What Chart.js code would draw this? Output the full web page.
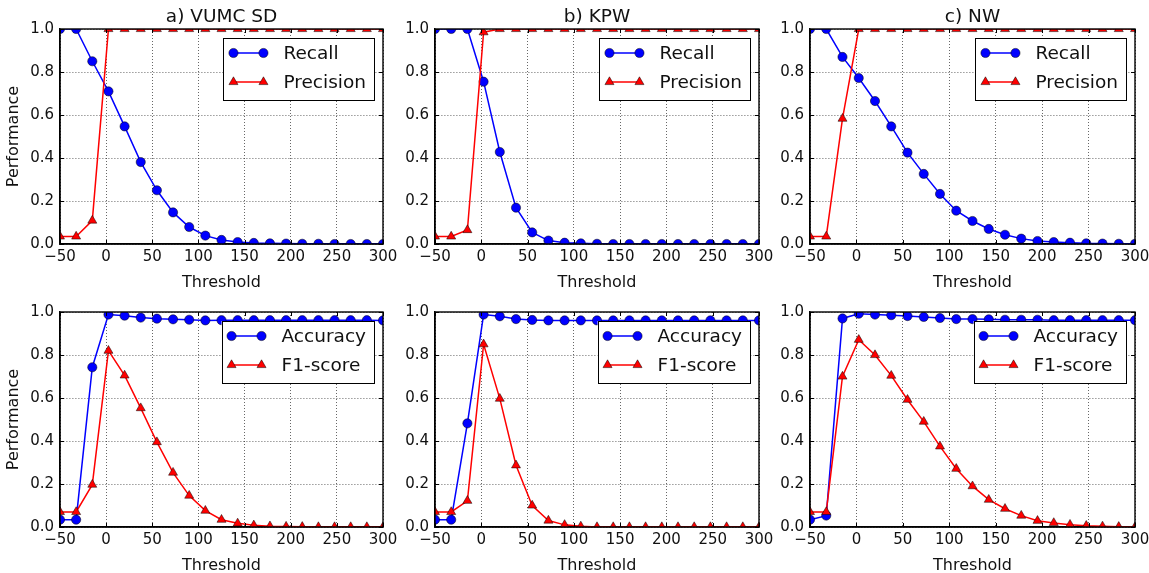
<!DOCTYPE html>
<html>
<head>
<meta charset="utf-8">
<script src="https://cdn.jsdelivr.net/npm/chart.js@4/dist/chart.umd.min.js"></script>
<style>
  html, body { margin: 0; padding: 0; background: #fff; }
  #wrap { position: relative; width: 1149px; height: 573px; overflow: hidden; }
  #wrap canvas { position: absolute; }
</style>
</head>
<body>
<div id="wrap"></div>
<script>
// Seuils communs a tous les panneaux
const thresholds = [-50, -32.5, -15, 2.5, 20, 37.5, 55, 72.5, 90, 107.5, 125, 142.5, 160, 177.5, 195, 212.5, 230, 247.5, 265, 282.5, 300];
const xTicks = [-50, 0, 50, 100, 150, 200, 250, 300];
const yTicks = [0, 0.2, 0.4, 0.6, 0.8, 1.0];

// a) VUMC SD
const recallVumc = [1.0, 1.0, 0.85, 0.71, 0.547, 0.381, 0.25, 0.147, 0.079, 0.039, 0.019, 0.009, 0.005, 0.003, 0.002, 0.001, 0.001, 0, 0, 0, 0];
const precisionVumc = [0.035, 0.035, 0.109, 1, 1, 1, 1, 1, 1, 1, 1, 1, 1, 1, 1, 1, 1, 1, 1, 1, 1];
const accuracyVumc = [0.034, 0.034, 0.743, 0.988, 0.983, 0.974, 0.969, 0.966, 0.964, 0.961, 0.962, 0.962, 0.962, 0.962, 0.962, 0.962, 0.962, 0.962, 0.962, 0.962, 0.961];
const f1Vumc = [0.07, 0.07, 0.197, 0.82, 0.705, 0.553, 0.395, 0.253, 0.146, 0.076, 0.034, 0.017, 0.008, 0.004, 0.002, 0.001, 0, 0, 0, 0, 0];

// b) KPW
const recallKpw = [1.0, 1.0, 1.0, 0.755, 0.428, 0.169, 0.054, 0.016, 0.006, 0.003, 0.001, 0, 0, 0, 0, 0, 0, 0, 0, 0, 0];
const precisionKpw = [0.035, 0.035, 0.065, 0.985, 1, 1, 1, 1, 1, 1, 1, 1, 1, 1, 1, 1, 1, 1, 1, 1, 1];
const accuracyKpw = [0.034, 0.034, 0.482, 0.988, 0.98, 0.967, 0.963, 0.961, 0.961, 0.961, 0.961, 0.961, 0.961, 0.961, 0.961, 0.961, 0.961, 0.961, 0.961, 0.961, 0.961];
const f1Kpw = [0.07, 0.07, 0.122, 0.85, 0.597, 0.287, 0.1, 0.03, 0.01, 0.003, 0, 0, 0, 0, 0, 0, 0, 0, 0, 0, 0];

// c) NW
const recallNw = [1.0, 1.0, 0.87, 0.772, 0.665, 0.547, 0.425, 0.326, 0.233, 0.155, 0.107, 0.07, 0.043, 0.025, 0.014, 0.009, 0.006, 0.003, 0.002, 0.001, 0.001];
const precisionNw = [0.035, 0.035, 0.583, 1, 1, 1, 1, 1, 1, 1, 1, 1, 1, 1, 1, 1, 1, 1, 1, 1, 1];
const accuracyNw = [0.034, 0.053, 0.97, 0.992, 0.988, 0.985, 0.981, 0.977, 0.972, 0.967, 0.967, 0.966, 0.964, 0.964, 0.964, 0.962, 0.962, 0.962, 0.962, 0.962, 0.962];
const f1Nw = [0.07, 0.07, 0.70, 0.871, 0.80, 0.704, 0.592, 0.49, 0.375, 0.271, 0.19, 0.127, 0.085, 0.053, 0.029, 0.019, 0.011, 0.006, 0.003, 0.001, 0];

const FONT = 'DejaVu Sans';
const TEXT = '#111';

// Panneaux : position de la zone de trace et series
const panels = [
  { title: 'a) VUMC SD', left: 60,  top: 29,  width: 323, names: ['Recall', 'Precision'], s1: recallVumc, s2: precisionVumc, yTitle: true },
  { title: 'b) KPW',     left: 435, top: 29,  width: 324, names: ['Recall', 'Precision'], s1: recallKpw,  s2: precisionKpw,  yTitle: false },
  { title: 'c) NW',      left: 810, top: 29,  width: 325, names: ['Recall', 'Precision'], s1: recallNw,   s2: precisionNw,   yTitle: false },
  { title: '',           left: 60,  top: 312, width: 323, names: ['Accuracy', 'F1-score'], s1: accuracyVumc, s2: f1Vumc, yTitle: true },
  { title: '',           left: 435, top: 312, width: 324, names: ['Accuracy', 'F1-score'], s1: accuracyKpw,  s2: f1Kpw,  yTitle: false },
  { title: '',           left: 810, top: 312, width: 325, names: ['Accuracy', 'F1-score'], s1: accuracyNw,   s2: f1Nw,   yTitle: false }
];

const PLOT_H = 215;
const PAD_TOP = 29;
const PAD_RIGHT = 20;
const Y_AXIS_W = 60;
const X_AXIS_H = 48;
const CIRCLE_R = 4.6;
const TRI_R = 5.2;

// Marqueurs dessines a la main pour la legende
function drawMarker(ctx, style, x, y, color) {
  ctx.save();
  ctx.fillStyle = color;
  ctx.strokeStyle = '#000';
  ctx.lineWidth = 0.5;
  ctx.beginPath();
  if (style === 'circle') {
    ctx.arc(x, y, CIRCLE_R, 0, Math.PI * 2);
  } else {
    const r = TRI_R;
    ctx.moveTo(x, y - r);
    ctx.lineTo(x + r * Math.sin(Math.PI * 2 / 3), y + r / 2);
    ctx.lineTo(x - r * Math.sin(Math.PI * 2 / 3), y + r / 2);
    ctx.closePath();
  }
  ctx.fill();
  ctx.stroke();
  ctx.restore();
}

// Cadre, petits traits de graduation, titre et legende
const panelDecor = {
  id: 'panelDecor',
  afterDraw(chart, args, opts) {
    const ctx = chart.ctx;
    const a = chart.chartArea;
    const xs = chart.scales.x;
    const ys = chart.scales.y;

    ctx.save();
    ctx.strokeStyle = '#000';
    ctx.lineWidth = 1;
    ctx.beginPath();
    for (const v of xTicks) {
      const px = Math.round(xs.getPixelForValue(v)) + 0.5;
      ctx.moveTo(px, a.bottom); ctx.lineTo(px, a.bottom - 4);
      ctx.moveTo(px, a.top); ctx.lineTo(px, a.top + 4);
    }
    for (const v of yTicks) {
      const py = Math.round(ys.getPixelForValue(v)) + 0.5;
      ctx.moveTo(a.left, py); ctx.lineTo(a.left + 4, py);
      ctx.moveTo(a.right, py); ctx.lineTo(a.right - 4, py);
    }
    ctx.stroke();

    // cadre complet
    ctx.lineWidth = 1.4;
    ctx.strokeRect(a.left, a.top, a.right - a.left, a.bottom - a.top);

    // titre
    if (opts.title) {
      ctx.fillStyle = TEXT;
      ctx.font = '18.5px "' + FONT + '"';
      ctx.textAlign = 'center';
      ctx.textBaseline = 'middle';
      ctx.fillText(opts.title, (a.left + a.right) / 2, a.top - 12);
    }

    // legende
    ctx.font = '18.5px "' + FONT + '"';
    const textW = Math.max(...opts.names.map(n => ctx.measureText(n).width));
    const boxW = 60 + textW + 8;
    const boxH = 62;
    const bx = a.right - 9 - boxW;
    const by = a.top + 9;
    ctx.fillStyle = '#fff';
    ctx.fillRect(bx, by, boxW, boxH);
    ctx.lineWidth = 1;
    ctx.strokeStyle = '#000';
    ctx.strokeRect(Math.round(bx) + 0.5, Math.round(by) + 0.5, Math.round(boxW), boxH);

    const rows = [
      { name: opts.names[0], color: '#0000ff', style: 'circle', y: by + 15 },
      { name: opts.names[1], color: '#ff0000', style: 'triangle', y: by + 44 }
    ];
    for (const r of rows) {
      ctx.strokeStyle = r.color;
      ctx.lineWidth = 1.5;
      ctx.beginPath();
      ctx.moveTo(bx + 10, r.y);
      ctx.lineTo(bx + 40, r.y);
      ctx.stroke();
      drawMarker(ctx, r.style, bx + 10, r.y, r.color);
      drawMarker(ctx, r.style, bx + 40, r.y, r.color);
      ctx.fillStyle = TEXT;
      ctx.textAlign = 'left';
      ctx.textBaseline = 'middle';
      ctx.fillText(r.name, bx + 60, r.y + 1);
    }
    ctx.restore();
  }
};

function toPoints(values) {
  const pts = [];
  for (let i = 0; i < thresholds.length; i++) {
    pts.push({ x: thresholds[i], y: values[i] });
  }
  return pts;
}

const wrap = document.getElementById('wrap');

for (let i = 0; i < panels.length; i++) {
  const p = panels[i];
  const canvas = document.createElement('canvas');
  const w = p.width + Y_AXIS_W + PAD_RIGHT;
  const h = PLOT_H + PAD_TOP + X_AXIS_H;
  canvas.width = w;
  canvas.height = h;
  canvas.style.width = w + 'px';
  canvas.style.height = h + 'px';
  canvas.style.left = (p.left - Y_AXIS_W) + 'px';
  canvas.style.top = (p.top - PAD_TOP) + 'px';
  wrap.appendChild(canvas);

  new Chart(canvas, {
    type: 'line',
    data: {
      datasets: [
        {
          label: p.names[0],
          data: toPoints(p.s1),
          borderColor: '#0000ff',
          backgroundColor: '#0000ff',
          borderWidth: 1.5,
          pointStyle: 'circle',
          pointRadius: CIRCLE_R,
          pointBorderColor: '#000',
          pointBorderWidth: 0.5,
          tension: 0,
          order: 2
        },
        {
          label: p.names[1],
          data: toPoints(p.s2),
          borderColor: '#ff0000',
          backgroundColor: '#ff0000',
          borderWidth: 1.5,
          pointStyle: 'triangle',
          pointRadius: TRI_R,
          pointBorderColor: '#000',
          pointBorderWidth: 0.5,
          tension: 0,
          order: 1
        }
      ]
    },
    options: {
      responsive: false,
      animation: false,
      devicePixelRatio: 1,
      layout: { padding: { top: PAD_TOP, right: PAD_RIGHT, left: 0, bottom: 0 } },
      plugins: {
        legend: { display: false },
        tooltip: { enabled: false },
        panelDecor: { title: p.title, names: p.names }
      },
      scales: {
        x: {
          type: 'linear',
          min: -50,
          max: 300,
          afterBuildTicks: s => { s.ticks = xTicks.map(v => ({ value: v })); },
          afterFit: s => { s.height = X_AXIS_H; },
          ticks: {
            color: TEXT,
            font: { family: FONT, size: 15 },
            padding: 4,
            maxRotation: 0,
            autoSkip: false,
            callback: v => v < 0 ? '\u2212' + Math.abs(v) : String(v)
          },
          grid: { color: '#000', lineWidth: 0.6, drawTicks: false },
          border: { display: true, color: '#000', width: 1.4, dash: [1, 2] },
          title: {
            display: true,
            text: 'Threshold',
            color: TEXT,
            font: { family: FONT, size: 16 },
            padding: { top: 0, bottom: 0 }
          }
        },
        y: {
          min: 0,
          max: 1,
          afterBuildTicks: s => { s.ticks = yTicks.map(v => ({ value: v })); },
          afterFit: s => { s.width = Y_AXIS_W; },
          ticks: {
            color: TEXT,
            font: { family: FONT, size: 15 },
            padding: 6,
            callback: v => Number(v).toFixed(1)
          },
          grid: { color: '#000', lineWidth: 0.6, drawTicks: false },
          border: { display: true, color: '#000', width: 1.4, dash: [1, 2] },
          title: {
            display: p.yTitle,
            text: 'Performance',
            color: TEXT,
            font: { family: FONT, size: 16 },
            padding: { top: 4, bottom: 4 }
          }
        }
      }
    },
    plugins: [panelDecor]
  });
}
</script>
</body>
</html>
